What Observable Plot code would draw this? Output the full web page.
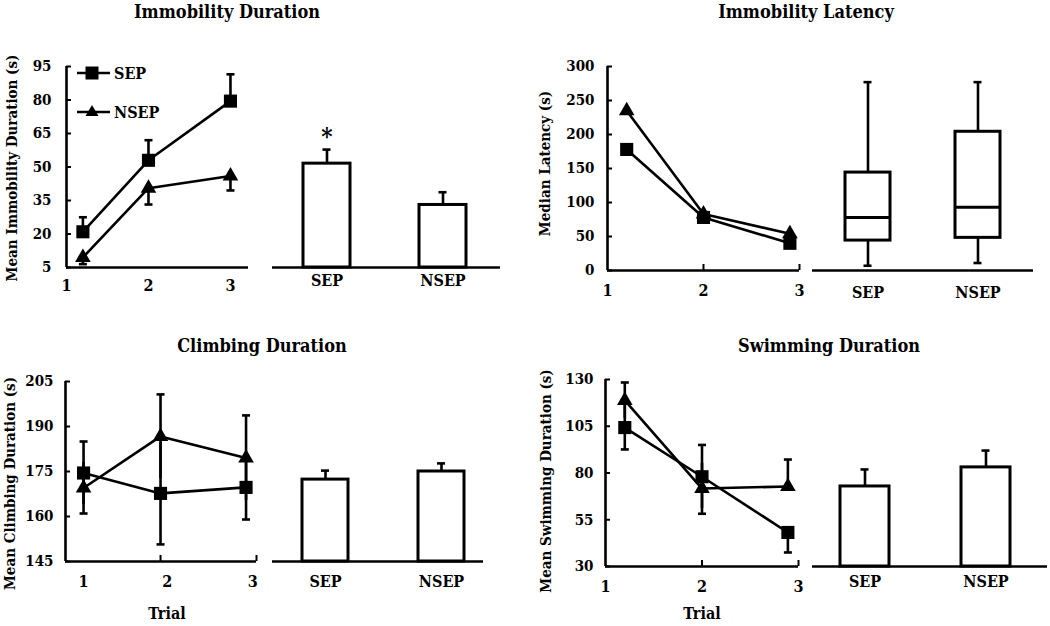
<!DOCTYPE html>
<html><head><meta charset="utf-8">
<script src="https://cdn.jsdelivr.net/npm/d3@7"></script>
<script src="https://cdn.jsdelivr.net/npm/@observablehq/plot@0.6"></script>
<style>
body{margin:0;background:#fff}
#fig{position:relative;width:1050px;height:626px;overflow:hidden;background:#fff;color:#000;
 font-family:"DejaVu Serif Condensed","DejaVu Serif",serif;font-weight:bold}
.ttl{position:absolute;font-size:18px;transform:translate(-50%,-50%);white-space:nowrap}
.pl{position:absolute}
.pl svg{overflow:visible}
</style></head><body><div id="fig"></div>
<script>
const FONT = '"DejaVu Serif Condensed","DejaVu Serif",serif';
const groups = ["SEP", "NSEP"];
const trialLabels = ["1", "2", "3"];

// ---- Immobility Duration ----
const immTrialPos = [1.2, 2, 3];
const immSEP = [21, 53, 79.5];
const immSEPErr = [6.5, 9, 12];
const immSEPDir = ["up", "up", "up"];
const immNSEP = [9.5, 40.5, 46];
const immNSEPErr = [3, 7.3, 6.5];
const immNSEPDir = ["down", "down", "down"];
const immBarMean = [51.5, 33];
const immBarErr = [6.3, 5.7];
const immBarSig = ["*", ""];
const immTicks = [5, 20, 35, 50, 65, 80, 95];

// ---- Immobility Latency ----
const latTrialPos = [1.2, 2, 2.9];
const latSEP = [178, 78, 40];
const latNSEP = [235, 83, 54];
const latBoxMin = [7, 11];
const latBoxQ1 = [44, 48];
const latBoxMedian = [78, 93];
const latBoxQ3 = [144, 204];
const latBoxMax = [277, 277];
const latTicks = [0, 50, 100, 150, 200, 250, 300];

// ---- Climbing Duration ----
const climbTrialPos = [1.19, 2, 2.9];
const climbLabelPos = [1.19, 2.07, 2.97];
const climbSEP = [174.5, 167.7, 169.7];
const climbSEPErr = [10.5, 17, 10.7];
const climbSEPDir = ["both", "both", "both"];
const climbNSEP = [169.5, 186.7, 179.5];
const climbNSEPErr = [8.5, 14, 14.2];
const climbNSEPDir = ["both", "both", "both"];
const climbBarMean = [172.3, 175];
const climbBarErr = [3, 2.7];
const climbTicks = [145, 160, 175, 190, 205];

// ---- Swimming Duration ----
const swimTrialPos = [1.2, 2, 2.89];
const swimSEP = [104.3, 78, 48.2];
const swimSEPErr = [11.7, 17, 10.7];
const swimSEPDir = ["both", "both", "down"];
const swimNSEP = [118.8, 71.7, 72.8];
const swimNSEPErr = [9.6, 13.5, 14.4];
const swimNSEPDir = ["both", "both", "up"];
const swimBarMean = [72.8, 83];
const swimBarErr = [9.1, 9];
const swimTicks = [30, 55, 80, 105, 130];

const fig = document.getElementById("fig");
const SW = 2.6;
const capSym = {draw(ctx, size) {const w = Math.sqrt(size / Math.PI); ctx.moveTo(-w, 0); ctx.lineTo(w, 0);}};
const PAD = {l: 90, r: 20, t: 40, b: 70};

function mount(frame, x, y, marks) {
  const left = frame.x0 - PAD.l, top = frame.y0 - PAD.t;
  const width = frame.x1 - frame.x0 + PAD.l + PAD.r;
  const height = frame.y1 - frame.y0 + PAD.t + PAD.b;
  const svg = Plot.plot({
    width, height, marginLeft: PAD.l, marginRight: PAD.r, marginTop: PAD.t, marginBottom: PAD.b,
    style: {fontFamily: FONT, fontSize: "15px", fontWeight: "bold", overflow: "visible", background: "transparent", maxWidth: "none", color: "black"},
    x, y, marks
  });
  const div = document.createElement("div");
  div.className = "pl";
  div.style.left = left + "px"; div.style.top = top + "px"; div.style.width = width + "px";
  div.appendChild(svg);
  fig.appendChild(div);
}

function linePanel(p) {
  const f = p.frame, fw = f.x1 - f.x0, fh = f.y1 - f.y0;
  const rows = [];
  p.series.forEach(s => s.values.forEach((v, i) => {
    const dir = s.dir ? s.dir[i] : null, e = s.err ? s.err[i] : 0;
    rows.push({
      group: s.name, x: p.pos[i], y: v, err: e, dir,
      lo: dir === "down" || dir === "both" ? v - e : v,
      hi: dir === "up" || dir === "both" ? v + e : v
    });
  }));
  const errRows = rows.filter(d => d.err > 0 && d.dir);
  // a cap is drawn at an error-bar end unless another bar at the same trial covers it
  const covered = (d, yv) => errRows.some(o => o !== d && o.x === d.x && yv > o.lo && yv < o.hi);
  const caps = [];
  errRows.forEach(d => {
    if (d.hi > d.y && !covered(d, d.hi)) caps.push({x: d.x, y: d.hi});
    if (d.lo < d.y && !covered(d, d.lo)) caps.push({x: d.x, y: d.lo});
  });
  const labels = trialLabels.map((t, i) => ({t, x: p.labelPos[i]}));
  mount(f, {domain: p.xDomain, axis: null}, {domain: p.yDomain, axis: null}, [
    Plot.ruleX([p.xDomain[0]], {strokeWidth: SW}),
    Plot.ruleY([p.yDomain[0]], {strokeWidth: SW}),
    Plot.tickY(p.yTicks, {y: d => d, insetRight: fw - 5, strokeWidth: 2}),
    Plot.tickX(p.upTicks, {x: d => d, insetTop: fh - 6, strokeWidth: 2}),
    Plot.text(p.yTicks, {y: d => d, text: d => String(d), frameAnchor: "left", textAnchor: "end", dx: -p.tickGap}),
    Plot.text(labels, {x: "x", text: "t", frameAnchor: "bottom", dy: p.labelDy, fontSize: 16}),
    Plot.text([p.yLabel], {frameAnchor: "left", textAnchor: "middle", rotate: -90, dx: p.yLabelDx, dy: p.yLabelDy, fontSize: 15}),
    ...(p.xTitle ? [Plot.text([p.xTitle], {frameAnchor: "bottom", textAnchor: "middle", dy: p.xTitleDy, dx: p.xTitleDx || 0, fontSize: 16})] : []),
    Plot.ruleX(errRows, {x: "x", y1: "lo", y2: "hi", strokeWidth: SW}),
    Plot.dot(caps, {x: "x", y: "y", symbol: capSym, r: 4, fill: "none", stroke: "black", strokeWidth: SW}),
    Plot.line(rows, {x: "x", y: "y", z: "group", stroke: "black", strokeWidth: SW}),
    Plot.dot(rows.filter(d => d.group === "SEP"), {x: "x", y: "y", symbol: "square", r: 7.4, fill: "black"}),
    Plot.dot(rows.filter(d => d.group === "NSEP"), {x: "x", y: "y", symbol: "triangle", r: 5.8, fill: "black"})
  ]);
}

function bandX(p) {
  const left = p.frame.x0 - PAD.l;
  const [c1, c2] = p.centers, bw = p.bw;
  return {type: "band", domain: groups, axis: null, range: [c1 - bw / 2 - left, c2 + bw / 2 - left],
    paddingInner: 1 - bw / (c2 - c1), paddingOuter: 0};
}

function barPanel(p) {
  const rows = groups.map((g, i) => ({group: g, mean: p.mean[i], err: p.err[i], sig: p.sig ? p.sig[i] : ""}));
  const capInset = (p.bw - 8) / 2;
  mount(p.frame, bandX(p), {domain: p.yDomain, axis: null}, [
    Plot.ruleX(rows, {x: "group", y1: "mean", y2: d => d.mean + d.err, strokeWidth: SW}),
    Plot.tickY(rows, {x: "group", y: d => d.mean + d.err, insetLeft: capInset, insetRight: capInset, strokeWidth: SW}),
    Plot.barY(rows, {x: "group", y1: p.yDomain[0], y2: "mean", fill: "white", stroke: "black", strokeWidth: 3}),
    Plot.text(rows.filter(d => d.sig), {x: "group", y: d => d.mean + d.err, text: "sig", dy: -12, fontSize: 24}),
    Plot.ruleY([p.yDomain[0]], {strokeWidth: SW}),
    Plot.text(rows, {x: "group", text: "group", frameAnchor: "bottom", dy: p.labelDy, fontSize: 16})
  ]);
}

function boxPanel(p) {
  const rows = groups.map((g, i) => ({group: g, min: p.min[i], q1: p.q1[i], med: p.med[i], q3: p.q3[i], max: p.max[i]}));
  const capInset = (p.bw - 8) / 2;
  mount(p.frame, bandX(p), {domain: p.yDomain, axis: null}, [
    Plot.ruleX(rows, {x: "group", y1: "min", y2: "q1", strokeWidth: SW}),
    Plot.ruleX(rows, {x: "group", y1: "q3", y2: "max", strokeWidth: SW}),
    Plot.tickY(rows, {x: "group", y: "max", insetLeft: capInset, insetRight: capInset, strokeWidth: SW}),
    Plot.tickY(rows, {x: "group", y: "min", insetLeft: capInset, insetRight: capInset, strokeWidth: SW}),
    Plot.barY(rows, {x: "group", y1: "q1", y2: "q3", fill: "white", stroke: "black", strokeWidth: 3}),
    Plot.tickY(rows, {x: "group", y: "med", strokeWidth: 3}),
    Plot.ruleY([p.yDomain[0]], {strokeWidth: SW}),
    Plot.text(rows, {x: "group", text: "group", frameAnchor: "bottom", dy: p.labelDy, fontSize: 16})
  ]);
}

function title(text, x, y) {
  const d = document.createElement("div");
  d.className = "ttl"; d.textContent = text;
  d.style.left = x + "px"; d.style.top = y + "px";
  fig.appendChild(d);
}

// ---- Panel A ----
title("Immobility Duration", 227, 11);
linePanel({
  frame: {x0: 66, x1: 248, y0: 66, y1: 267}, xDomain: [1, 3.22], yDomain: [5, 95], yTicks: immTicks,
  pos: immTrialPos, labelPos: [1, 2, 3], labelDy: 23, upTicks: [], tickGap: 15,
  yLabel: "Mean Immobility Duration (s)", yLabelDx: -54, yLabelDy: 1,
  series: [
    {name: "SEP", values: immSEP, err: immSEPErr, dir: immSEPDir},
    {name: "NSEP", values: immNSEP, err: immNSEPErr, dir: immNSEPDir}
  ]
});
barPanel({frame: {x0: 272, x1: 500, y0: 66, y1: 267}, yDomain: [5, 95], centers: [326, 442], bw: 47,
  mean: immBarMean, err: immBarErr, sig: immBarSig, labelDy: 18});

// ---- Panel B ----
title("Immobility Latency", 806, 11);
linePanel({
  frame: {x0: 607, x1: 799, y0: 66, y1: 270}, xDomain: [1, 3], yDomain: [0, 300], yTicks: latTicks,
  pos: latTrialPos, labelPos: [1, 2, 3], labelDy: 25, upTicks: [2, 3], tickGap: 13,
  yLabel: "Median Latency (s)", yLabelDx: -62, yLabelDy: -5,
  series: [
    {name: "SEP", values: latSEP},
    {name: "NSEP", values: latNSEP}
  ]
});
boxPanel({frame: {x0: 812, x1: 1033, y0: 66, y1: 270}, yDomain: [0, 300], centers: [867.5, 978], bw: 45,
  min: latBoxMin, q1: latBoxQ1, med: latBoxMedian, q3: latBoxQ3, max: latBoxMax, labelDy: 27});

// ---- Panel C ----
title("Climbing Duration", 262, 345);
linePanel({
  frame: {x0: 65, x1: 256, y0: 381, y1: 561}, xDomain: [1, 3.01], yDomain: [145, 205], yTicks: climbTicks,
  pos: climbTrialPos, labelPos: climbLabelPos, labelDy: 25, upTicks: [2, 3.01], tickGap: 12,
  yLabel: "Mean Climbing Duration (s)", yLabelDx: -55, yLabelDy: 12,
  xTitle: "Trial", xTitleDy: 57, xTitleDx: 6,
  series: [
    {name: "SEP", values: climbSEP, err: climbSEPErr, dir: climbSEPDir},
    {name: "NSEP", values: climbNSEP, err: climbNSEPErr, dir: climbNSEPDir}
  ]
});
barPanel({frame: {x0: 272, x1: 483, y0: 381, y1: 561}, yDomain: [145, 205], centers: [325, 441], bw: 46,
  mean: climbBarMean, err: climbBarErr, labelDy: 25});

// ---- Panel D ----
title("Swimming Duration", 829, 345);
linePanel({
  frame: {x0: 605, x1: 798, y0: 379, y1: 566}, xDomain: [1, 3], yDomain: [30, 130], yTicks: swimTicks,
  pos: swimTrialPos, labelPos: [1, 2, 3], labelDy: 25, upTicks: [2, 3], tickGap: 12,
  yLabel: "Mean Swimming Duration (s)", yLabelDx: -59, yLabelDy: 8,
  xTitle: "Trial", xTitleDy: 52, xTitleDx: 0,
  series: [
    {name: "SEP", values: swimSEP, err: swimSEPErr, dir: swimSEPDir},
    {name: "NSEP", values: swimNSEP, err: swimNSEPErr, dir: swimNSEPDir}
  ]
});
barPanel({frame: {x0: 812, x1: 1047, y0: 379, y1: 566}, yDomain: [30, 130], centers: [864, 985], bw: 49,
  mean: swimBarMean, err: swimBarErr, labelDy: 20});

// ---- Legend (panel A) ----
const lg = document.createElementNS("http://www.w3.org/2000/svg", "svg");
lg.setAttribute("width", "130"); lg.setAttribute("height", "64");
lg.style.position = "absolute"; lg.style.left = "72px"; lg.style.top = "58px"; lg.style.overflow = "visible";
lg.innerHTML =
  '<g stroke="black" stroke-width="2.6"><line x1="5" y1="15" x2="38" y2="15"/><line x1="5" y1="54" x2="38" y2="54"/></g>' +
  '<rect x="13.5" y="8.5" width="13" height="13" fill="black"/>' +
  '<path d="M20,47 L26.5,58 L13.5,58 Z" fill="black"/>' +
  '<g font-family=\'' + FONT + '\' font-weight="bold" font-size="16px" dominant-baseline="central">' +
  '<text x="42" y="15">SEP</text><text x="42" y="54">NSEP</text></g>';
fig.appendChild(lg);
</script></body></html>
